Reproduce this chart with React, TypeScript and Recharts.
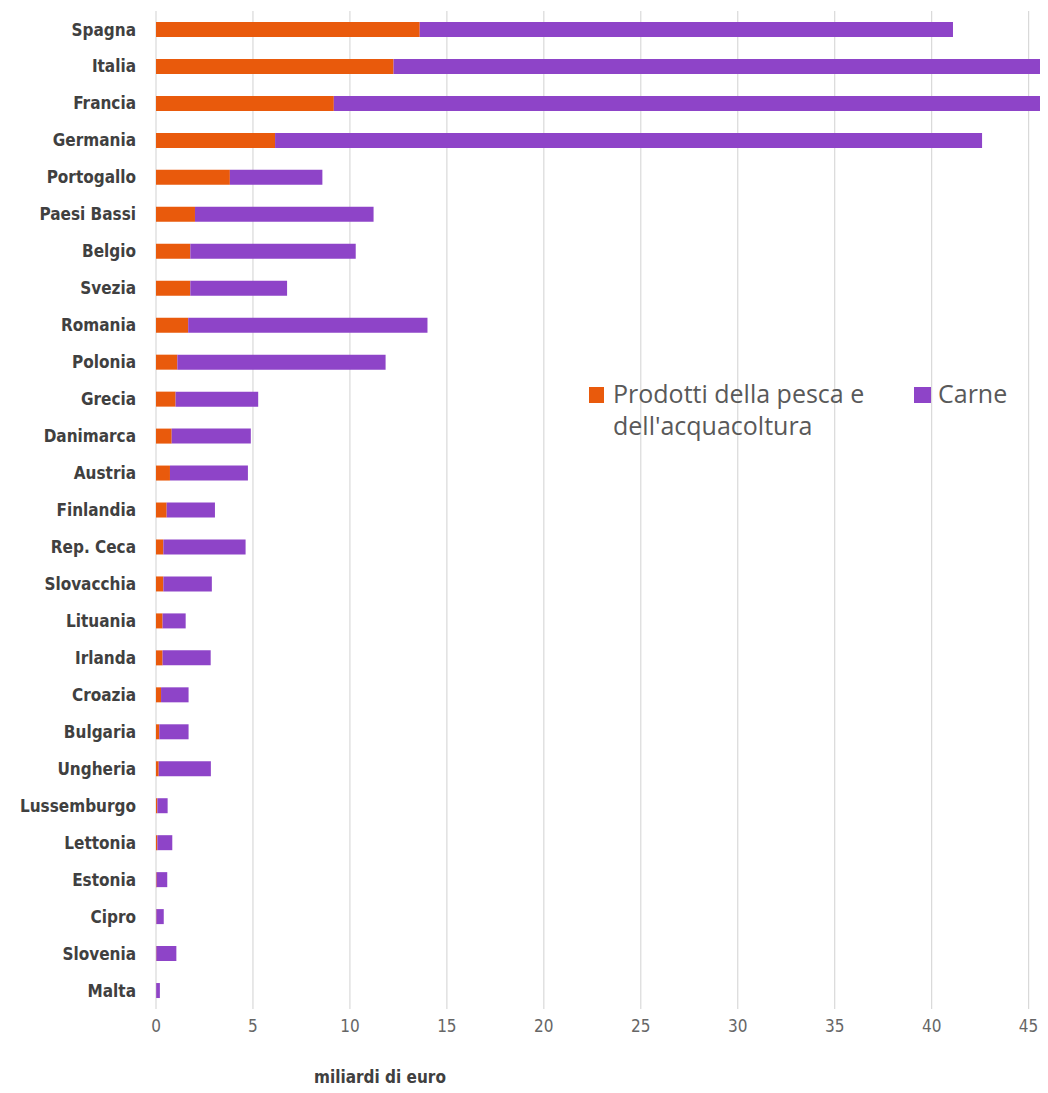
import React from "react";
import { BarChart, Bar, XAxis, YAxis, CartesianGrid, Legend } from "recharts";

const countries = [
  "Spagna", "Italia", "Francia", "Germania", "Portogallo", "Paesi Bassi", "Belgio",
  "Svezia", "Romania", "Polonia", "Grecia", "Danimarca", "Austria", "Finlandia",
  "Rep. Ceca", "Slovacchia", "Lituania", "Irlanda", "Croazia", "Bulgaria", "Ungheria",
  "Lussemburgo", "Lettonia", "Estonia", "Cipro", "Slovenia", "Malta",
];

const pesca = [
  13.6, 12.25, 9.17, 6.14, 3.81, 2.01, 1.77, 1.77, 1.66, 1.1, 1.01, 0.81, 0.72, 0.55,
  0.38, 0.38, 0.34, 0.34, 0.26, 0.17, 0.14, 0.07, 0.07, 0.03, 0.02, 0.02, 0.01,
];

const carne = [
  27.5, 36.8, 38.3, 36.46, 4.77, 9.21, 8.53, 4.99, 12.34, 10.74, 4.26, 4.08, 4.02, 2.49,
  4.24, 2.5, 1.19, 2.48, 1.42, 1.51, 2.69, 0.53, 0.77, 0.55, 0.38, 1.03, 0.19,
];

const xTicks = [0, 5, 10, 15, 20, 25, 30, 35, 40, 45];

const seriesNames = ["Prodotti della pesca e dell'acquacoltura", "Carne"];
const colors = ["#E95A0C", "#8E44C8"];

const data = countries.map((c, i) => ({ country: c, pesca: pesca[i], carne: carne[i] }));

const narrow = "'Liberation Sans Narrow', 'DejaVu Sans Condensed', sans-serif";
const legendFont = "'Open Sans', 'Noto Sans', sans-serif";

const LegendContent = () => (
  <div style={{ display: "flex", fontFamily: legendFont, fontSize: 25, color: "#595959", lineHeight: "32px" }}>
    <div style={{ display: "flex", alignItems: "flex-start", width: 325 }}>
      <div style={{ width: 15, height: 16, background: colors[0], marginTop: 10, marginRight: 9, flexShrink: 0 }} />
      <div>
        Prodotti della pesca e
        <br />
        dell'acquacoltura
      </div>
    </div>
    <div style={{ display: "flex", alignItems: "flex-start" }}>
      <div style={{ width: 17, height: 16, background: colors[1], marginTop: 10, marginRight: 7, flexShrink: 0 }} />
      <div>{seriesNames[1]}</div>
    </div>
  </div>
);

const AxisLabel = (props: any) => {
  const vb = props.viewBox || {};
  return (
    <text
      x={vb.x + 224}
      y={vb.y + 74}
      textAnchor="middle"
      fill="#404040"
      fontFamily={narrow}
      fontWeight="bold"
      fontSize={17}
    >
      miliardi di euro
    </text>
  );
};

export default function App() {
  return (
    <div style={{ width: 1040, height: 1085, marginBottom: -8 }}>
      <BarChart
        width={1040}
        height={1085}
        data={data}
        layout="vertical"
        margin={{ top: 3, right: 0, bottom: 0, left: 0 }}
        barSize={15}
      >
        <CartesianGrid horizontal={false} vertical={true} stroke="#D9D9D9" strokeWidth={1.2} />
        <XAxis
          type="number"
          domain={[0, 46]}
          allowDataOverflow
          ticks={xTicks}
          axisLine={false}
          tickLine={false}
          tickMargin={5}
          height={84}
          tick={{ fill: "#666666", fontSize: 17, fontFamily: narrow }}
          label={<AxisLabel />}
        />
        <YAxis
          type="category"
          dataKey="country"
          width={148}
          axisLine={false}
          tickLine={false}
          tickMargin={14}
          interval={0}
          tick={{ fill: "#404040", fontSize: 17, fontFamily: narrow, fontWeight: "bold" }}
        />
        <Legend
          layout="horizontal"
          verticalAlign="middle"
          align="center"
          content={<LegendContent />}
          wrapperStyle={{ position: "absolute", left: 581, top: 369, width: 460 }}
        />
        <Bar dataKey="pesca" name={seriesNames[0]} stackId="a" fill={colors[0]} isAnimationActive={false} />
        <Bar dataKey="carne" name={seriesNames[1]} stackId="a" fill={colors[1]} isAnimationActive={false} />
      </BarChart>
    </div>
  );
}
